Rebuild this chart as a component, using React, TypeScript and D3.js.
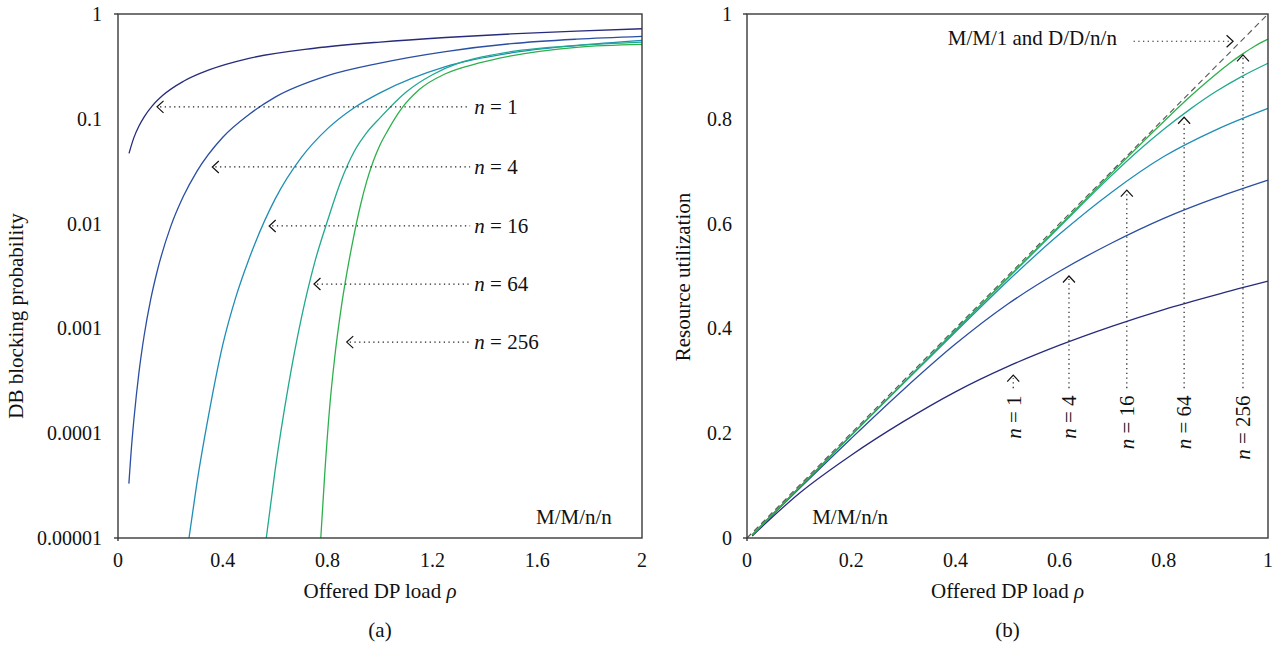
import React from "react";
import * as d3 from "d3";

// ---------- Data: panel (a) DB blocking probability vs offered DP load ----------
const leftN1Rho = [0.042, 0.06, 0.08, 0.1, 0.13, 0.17, 0.25, 0.35, 0.5, 0.75, 1.0, 1.25, 1.5, 1.75, 2.0];
const leftN1Blk = [0.0468, 0.0654, 0.0853, 0.1045, 0.132, 0.1665, 0.228, 0.294, 0.377, 0.471, 0.54, 0.597, 0.645, 0.687, 0.723];

const leftN4Rho = [0.0415, 0.045, 0.05, 0.06, 0.07, 0.08, 0.1, 0.125, 0.15, 0.2, 0.25, 0.3, 0.4, 0.5, 0.6, 0.8, 1.0, 1.25, 1.5, 1.75, 2.0];
const leftN4Blk = [3.3e-5, 4.4e-5, 6.6e-5, 1.3e-4, 2.3e-4, 3.8e-4, 8.6e-4, 1.9e-3, 3.55e-3, 9.2e-3, 0.0183, 0.0312, 0.0667, 0.11, 0.161, 0.258, 0.34, 0.438, 0.521, 0.575, 0.612];

const leftN16Rho = [0.271, 0.3, 0.35, 0.4, 0.45, 0.5, 0.6, 0.7, 0.8, 0.9, 1.0, 1.25, 1.5, 1.75, 2.0];
const leftN16Blk = [1e-5, 3.2e-5, 1.69e-4, 7.0e-4, 2.0e-3, 4.6e-3, 0.0172, 0.0428, 0.0806, 0.127, 0.177, 0.315, 0.425, 0.5, 0.56];

const leftN64Rho = [0.566, 0.6, 0.65, 0.7, 0.75, 0.8, 0.85, 0.9, 0.95, 1.0, 1.1, 1.2, 1.3, 1.4, 1.5, 1.75, 2.0];
const leftN64Blk = [1e-5, 4.5e-5, 2.8e-4, 1.26e-3, 4.2e-3, 0.0107, 0.0251, 0.0479, 0.0741, 0.102, 0.18, 0.263, 0.339, 0.394, 0.437, 0.501, 0.54];

const leftN256Rho = [0.774, 0.789, 0.808, 0.827, 0.852, 0.875, 0.9, 0.925, 0.95, 0.975, 1.0, 1.03, 1.08, 1.15, 1.25, 1.375, 1.5, 1.75, 2.0];
const leftN256Blk = [1e-5, 4.07e-5, 1.78e-4, 5.25e-4, 1.58e-3, 3.55e-3, 7.6e-3, 0.0148, 0.0257, 0.0398, 0.0562, 0.0776, 0.123, 0.19, 0.269, 0.339, 0.398, 0.481, 0.513];

// ---------- Data: panel (b) resource utilization vs offered DP load ----------
const rightRho = [0.01, 0.1, 0.2, 0.3, 0.4, 0.5, 0.6, 0.7, 0.8, 0.9, 1.0];
const rightN1Util = [0.004, 0.085, 0.158, 0.222, 0.279, 0.327, 0.368, 0.404, 0.436, 0.464, 0.49];
const rightN4Util = [0.006, 0.094, 0.19, 0.283, 0.37, 0.446, 0.509, 0.563, 0.61, 0.649, 0.683];
const rightN16Util = [0.006, 0.096, 0.196, 0.295, 0.393, 0.49, 0.58, 0.66, 0.728, 0.779, 0.82];
const rightN64Rho = [0.01, 0.2, 0.4, 0.6, 0.7, 0.75, 0.8, 0.85, 0.9, 0.95, 1.0];
const rightN64Util = [0.006, 0.196, 0.396, 0.594, 0.692, 0.738, 0.78, 0.818, 0.852, 0.881, 0.906];
const rightN256Rho = [0.01, 0.2, 0.4, 0.6, 0.8, 0.85, 0.875, 0.9, 0.925, 0.95, 0.975, 1.0];
const rightN256Util = [0.006, 0.196, 0.396, 0.596, 0.795, 0.842, 0.864, 0.885, 0.905, 0.923, 0.939, 0.952];
const diagRho = [0, 1];
const diagUtil = [0, 1];

// ---------- Ticks & labels ----------
const leftXTicks = [0, 0.4, 0.8, 1.2, 1.6, 2];
const leftXTickLabels = ["0", "0.4", "0.8", "1.2", "1.6", "2"];
const leftYTicks = [1, 0.1, 0.01, 0.001, 0.0001, 0.00001];
const leftYTickLabels = ["1", "0.1", "0.01", "0.001", "0.0001", "0.00001"];
const rightXTicks = [0, 0.2, 0.4, 0.6, 0.8, 1];
const rightXTickLabels = ["0", "0.2", "0.4", "0.6", "0.8", "1"];
const rightYTicks = [0, 0.2, 0.4, 0.6, 0.8, 1];
const rightYTickLabels = ["0", "0.2", "0.4", "0.6", "0.8", "1"];

const seriesNames = ["1", "4", "16", "64", "256"];
const seriesColors = ["#272b7b", "#2a4ea2", "#1f8db6", "#20a98e", "#2db04c"];

// annotations (data coordinates)
const leftAnnTipRho = [0.149, 0.36, 0.577, 0.748, 0.873];
const leftAnnTipBlk = [0.13, 0.0347, 0.0095, 0.00265, 0.00074];
const leftAnnEndRho = 1.344;
const leftAnnTextRho = 1.36;

const rightAnnRho = [0.511, 0.618, 0.729, 0.839, 0.952];
const rightAnnTipUtil = [0.311, 0.5, 0.664, 0.803, 0.922];
const rightAnnStartUtil = 0.286;
const rightAnnTextUtil = 0.272;

const FONT = "'Liberation Serif', 'Times New Roman', serif";
const FS_TICK = 20;
const FS_TEXT = 21;

export default function App() {
  const W = 1283, H = 646;
  // panel (a)
  const xL = d3.scaleLinear().domain([0, 2]).range([118, 642]);
  const yL = d3.scaleLog().domain([1e-5, 1]).range([538, 14]);
  // panel (b)
  const xR = d3.scaleLinear().domain([0, 1]).range([747, 1268]);
  const yR = d3.scaleLinear().domain([0, 1]).range([538, 14]);

  const lineL = (xs: number[], ys: number[]) =>
    d3.line<number>().x((_, i) => xL(xs[i])).y((_, i) => yL(ys[i])).curve(d3.curveMonotoneX)(xs) || "";
  const lineR = (xs: number[], ys: number[]) =>
    d3.line<number>().x((_, i) => xR(xs[i])).y((_, i) => yR(ys[i])).curve(d3.curveMonotoneX)(xs) || "";

  const leftSeries = [
    [leftN1Rho, leftN1Blk],
    [leftN4Rho, leftN4Blk],
    [leftN16Rho, leftN16Blk],
    [leftN64Rho, leftN64Blk],
    [leftN256Rho, leftN256Blk],
  ];
  const rightSeries = [
    [rightRho, rightN1Util],
    [rightRho, rightN4Util],
    [rightRho, rightN16Util],
    [rightN64Rho, rightN64Util],
    [rightN256Rho, rightN256Util],
  ];

  const axisColor = "#3a3a3a";
  const dotted = "1.3 3.4";

  const frame = (x0: number, x1: number, y0: number, y1: number) => (
    <g stroke={axisColor} fill="none">
      <rect x={x0} y={y0} width={x1 - x0} height={y1 - y0} strokeWidth={1.4} />
      <line x1={x0 - 4} x2={x0} y1={y0} y2={y0} strokeWidth={1.4} />
      <line x1={x0 - 4} x2={x0} y1={y1} y2={y1} strokeWidth={1.4} />
      <line x1={x0} x2={x0} y1={y1} y2={y1 + 3} strokeWidth={1.4} />
    </g>
  );

  const leftChevron = (tx: number, ty: number) => `M${tx + 6.5},${ty - 6}L${tx},${ty}L${tx + 6.5},${ty + 6}`;
  const upChevron = (tx: number, ty: number) => `M${tx - 6},${ty + 6.5}L${tx},${ty}L${tx + 6},${ty + 6.5}`;
  const rightChevron = (tx: number, ty: number) => `M${tx - 6.5},${ty - 6}L${tx},${ty}L${tx - 6.5},${ty + 6}`;

  return (
    <svg width={W} height={H} style={{ position: "absolute", left: 0, top: 0, background: "#fff" }}
      fontFamily={FONT} fontSize={FS_TEXT} fill="#111">
      {/* ================= Panel (a) ================= */}
      <g>
        {leftSeries.map(([xs, ys], i) => (
          <path key={i} d={lineL(xs, ys)} fill="none" stroke={seriesColors[i]} strokeWidth={1.3} />
        ))}
        {frame(118, 642, 14, 538)}
        {leftYTicks.map((t, i) => (
          <text key={i} x={xL(0) - 16} y={yL(t)} dy="0.35em" textAnchor="end" fontSize={FS_TICK}>{leftYTickLabels[i]}</text>
        ))}
        {leftXTicks.map((t, i) => (
          <text key={i} x={xL(t)} y={567} textAnchor="middle" fontSize={FS_TICK}>{leftXTickLabels[i]}</text>
        ))}
        <text x={(xL(0) + xL(2)) / 2} y={598} textAnchor="middle">
          Offered DP load <tspan fontStyle="italic">ρ</tspan>
        </text>
        <text x={(xL(0) + xL(2)) / 2} y={637} textAnchor="middle">(a)</text>
        <text transform={`translate(23,316) rotate(-90)`} textAnchor="middle">
          DB blocking probability
        </text>
        <text x={xL(1.885)} y={yL(1.36e-5)} textAnchor="end">M/M/n/n</text>
        {seriesNames.map((n, i) => {
          const tx = xL(leftAnnTipRho[i]);
          const ty = yL(leftAnnTipBlk[i]);
          return (
            <g key={n}>
              <line x1={tx + 3} x2={xL(leftAnnEndRho)} y1={ty} y2={ty} stroke="#222" strokeWidth={1.2}
                strokeDasharray={dotted} />
              <path d={leftChevron(tx, ty)} fill="none" stroke="#111" strokeWidth={1.2} />
              <text x={xL(leftAnnTextRho)} y={ty} dy="0.33em">
                <tspan fontStyle="italic">n</tspan> = {n}
              </text>
            </g>
          );
        })}
      </g>

      {/* ================= Panel (b) ================= */}
      <g>
        {rightSeries.map(([xs, ys], i) => (
          <path key={i} d={lineR(xs, ys)} fill="none" stroke={seriesColors[i]} strokeWidth={1.3} />
        ))}
        <path d={lineR(diagRho, diagUtil)} fill="none" stroke="#555" strokeWidth={1.1} strokeDasharray="6 4" />
        {frame(747, 1268, 14, 538)}
        {rightYTicks.map((t, i) => (
          <text key={i} x={xR(0) - 15} y={yR(t)} dy="0.35em" textAnchor="end" fontSize={FS_TICK}>{rightYTickLabels[i]}</text>
        ))}
        {rightXTicks.map((t, i) => (
          <text key={i} x={xR(t)} y={567} textAnchor="middle" fontSize={FS_TICK}>{rightXTickLabels[i]}</text>
        ))}
        <text x={(xR(0) + xR(1)) / 2} y={598} textAnchor="middle">
          Offered DP load <tspan fontStyle="italic">ρ</tspan>
        </text>
        <text x={(xR(0) + xR(1)) / 2} y={637} textAnchor="middle">(b)</text>
        <text transform={`translate(690,277) rotate(-90)`} textAnchor="middle">
          Resource utilization
        </text>
        <text x={xR(0.125)} y={yR(0.027)} textAnchor="start">M/M/n/n</text>
        <text x={xR(0.71)} y={yR(0.941)} textAnchor="end">M/M/1 and D/D/n/n</text>
        <line x1={xR(0.742)} x2={xR(0.933) - 3} y1={yR(0.948)} y2={yR(0.948)} stroke="#222" strokeWidth={1.2}
          strokeDasharray={dotted} />
        <path d={rightChevron(xR(0.933), yR(0.948))} fill="none" stroke="#111" strokeWidth={1.2} />
        {seriesNames.map((n, i) => {
          const tx = xR(rightAnnRho[i]);
          const ty = yR(rightAnnTipUtil[i]);
          return (
            <g key={n}>
              <line x1={tx} x2={tx} y1={yR(rightAnnStartUtil)} y2={ty + 3} stroke="#222" strokeWidth={1.2}
                strokeDasharray={dotted} />
              <path d={upChevron(tx, ty)} fill="none" stroke="#111" strokeWidth={1.2} />
              <text transform={`translate(${tx},${yR(rightAnnTextUtil)}) rotate(-90)`} dy="0.35em" textAnchor="end">
                <tspan fontStyle="italic">n</tspan> = {n}
              </text>
            </g>
          );
        })}
      </g>
    </svg>
  );
}
